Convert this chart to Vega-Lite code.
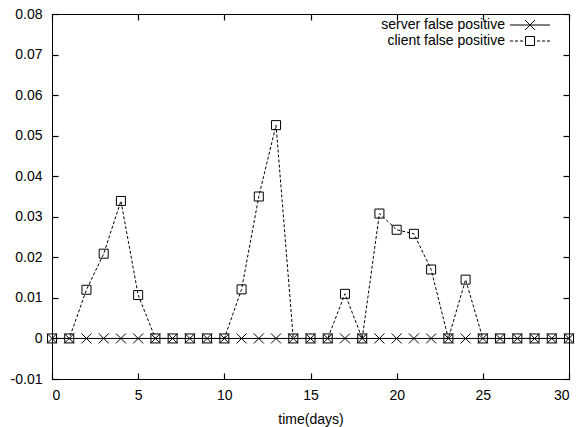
{
  "$schema": "https://vega.github.io/schema/vega-lite/v6.json",
  "width": 517,
  "height": 365,
  "autosize": "none",
  "padding": {"left": 52, "top": 14, "right": 10, "bottom": 48},
  "background": "white",
  "config": {
    "view": {"stroke": "black", "strokeWidth": 1},
    "font": "Liberation Sans",
    "axis": {
      "domainColor": "black",
      "tickColor": "black",
      "tickWidth": 1.2,
      "labelColor": "black",
      "labelFontSize": 14,
      "labelFont": "Liberation Sans",
      "titleFont": "Liberation Sans",
      "titleFontSize": 14,
      "titleFontWeight": "normal",
      "titleColor": "black",
      "grid": false
    },
    "legend": {
      "labelFontSize": 14,
      "labelFont": "Liberation Sans",
      "labelColor": "black"
    }
  },
  "data": {
    "values": [
      {"day": 0, "series": "server false positive", "value": 0},
      {"day": 1, "series": "server false positive", "value": 0},
      {"day": 2, "series": "server false positive", "value": 0},
      {"day": 3, "series": "server false positive", "value": 0},
      {"day": 4, "series": "server false positive", "value": 0},
      {"day": 5, "series": "server false positive", "value": 0},
      {"day": 6, "series": "server false positive", "value": 0},
      {"day": 7, "series": "server false positive", "value": 0},
      {"day": 8, "series": "server false positive", "value": 0},
      {"day": 9, "series": "server false positive", "value": 0},
      {"day": 10, "series": "server false positive", "value": 0},
      {"day": 11, "series": "server false positive", "value": 0},
      {"day": 12, "series": "server false positive", "value": 0},
      {"day": 13, "series": "server false positive", "value": 0},
      {"day": 14, "series": "server false positive", "value": 0},
      {"day": 15, "series": "server false positive", "value": 0},
      {"day": 16, "series": "server false positive", "value": 0},
      {"day": 17, "series": "server false positive", "value": 0},
      {"day": 18, "series": "server false positive", "value": 0},
      {"day": 19, "series": "server false positive", "value": 0},
      {"day": 20, "series": "server false positive", "value": 0},
      {"day": 21, "series": "server false positive", "value": 0},
      {"day": 22, "series": "server false positive", "value": 0},
      {"day": 23, "series": "server false positive", "value": 0},
      {"day": 24, "series": "server false positive", "value": 0},
      {"day": 25, "series": "server false positive", "value": 0},
      {"day": 26, "series": "server false positive", "value": 0},
      {"day": 27, "series": "server false positive", "value": 0},
      {"day": 28, "series": "server false positive", "value": 0},
      {"day": 29, "series": "server false positive", "value": 0},
      {"day": 30, "series": "server false positive", "value": 0},
      {"day": 0, "series": "client false positive", "value": 0},
      {"day": 1, "series": "client false positive", "value": 0},
      {"day": 2, "series": "client false positive", "value": 0.012},
      {"day": 3, "series": "client false positive", "value": 0.0209},
      {"day": 4, "series": "client false positive", "value": 0.0339},
      {"day": 5, "series": "client false positive", "value": 0.0107},
      {"day": 6, "series": "client false positive", "value": 0},
      {"day": 7, "series": "client false positive", "value": 0},
      {"day": 8, "series": "client false positive", "value": 0},
      {"day": 9, "series": "client false positive", "value": 0},
      {"day": 10, "series": "client false positive", "value": 0},
      {"day": 11, "series": "client false positive", "value": 0.0121},
      {"day": 12, "series": "client false positive", "value": 0.035},
      {"day": 13, "series": "client false positive", "value": 0.0526},
      {"day": 14, "series": "client false positive", "value": 0},
      {"day": 15, "series": "client false positive", "value": 0},
      {"day": 16, "series": "client false positive", "value": 0},
      {"day": 17, "series": "client false positive", "value": 0.011},
      {"day": 18, "series": "client false positive", "value": 0},
      {"day": 19, "series": "client false positive", "value": 0.0308},
      {"day": 20, "series": "client false positive", "value": 0.0268},
      {"day": 21, "series": "client false positive", "value": 0.0258},
      {"day": 22, "series": "client false positive", "value": 0.017},
      {"day": 23, "series": "client false positive", "value": 0},
      {"day": 24, "series": "client false positive", "value": 0.0145},
      {"day": 25, "series": "client false positive", "value": 0},
      {"day": 26, "series": "client false positive", "value": 0},
      {"day": 27, "series": "client false positive", "value": 0},
      {"day": 28, "series": "client false positive", "value": 0},
      {"day": 29, "series": "client false positive", "value": 0},
      {"day": 30, "series": "client false positive", "value": 0}
    ]
  },
  "layer": [
    {
      "transform": [{"filter": "datum.series === 'server false positive'"}],
      "mark": {"type": "line", "color": "black", "strokeWidth": 1},
      "encoding": {
        "x": {"field": "day", "type": "quantitative",
              "scale": {"domain": [0, 30], "nice": false, "zero": false},
              "axis": {"orient": "bottom", "values": [0, 5, 10, 15, 20, 25, 30], "title": "time(days)", "ticks": false, "tickSize": 0, "labelPadding": 9, "titlePadding": 10}},
        "y": {"field": "value", "type": "quantitative",
              "scale": {"domain": [-0.01, 0.08], "nice": false, "zero": false},
              "axis": {"orient": "left", "values": [-0.01, 0, 0.01, 0.02, 0.03, 0.04, 0.05, 0.06, 0.07, 0.08], "title": null, "ticks": false, "tickSize": 0, "labelPadding": 10,
                       "labelExpr": "replace(format(datum.value, '.2~f'), '\u2212', '-')"}}
      }
    },
    {
      "transform": [{"filter": "datum.series === 'client false positive'"}],
      "mark": {"type": "line", "color": "black", "strokeWidth": 1, "strokeDash": [3, 2]},
      "encoding": {
        "x": {"field": "day", "type": "quantitative",
              "axis": {"orient": "bottom", "values": [0, 5, 10, 15, 20, 25, 30], "labels": false, "title": null, "domain": false, "ticks": true, "offset": -6, "tickSize": 6}},
        "y": {"field": "value", "type": "quantitative",
              "axis": {"orient": "left", "values": [-0.01, 0, 0.01, 0.02, 0.03, 0.04, 0.05, 0.06, 0.07, 0.08], "labels": false, "title": null, "domain": false, "ticks": true, "offset": -6, "tickSize": 6}}
      }
    },
    {
      "transform": [{"filter": "datum.series === 'server false positive'"}],
      "mark": {"type": "point", "filled": false, "color": "black", "strokeWidth": 1, "size": 100, "opacity": 1, "shape": "M-1,-1L1,1M-1,1L1,-1"},
      "encoding": {
        "x": {"field": "day", "type": "quantitative",
              "axis": {"orient": "top", "values": [0, 5, 10, 15, 20, 25, 30], "labels": false, "title": null, "domain": false, "ticks": true, "offset": -6, "tickSize": 6}},
        "y": {"field": "value", "type": "quantitative",
              "axis": {"orient": "right", "values": [-0.01, 0, 0.01, 0.02, 0.03, 0.04, 0.05, 0.06, 0.07, 0.08], "labels": false, "title": null, "domain": false, "ticks": true, "offset": -6, "tickSize": 6}}
      }
    },
    {
      "transform": [{"filter": "datum.series === 'client false positive'"}],
      "mark": {"type": "point", "filled": false, "color": "black", "strokeWidth": 1, "size": 100, "opacity": 1, "shape": "M-0.9,-0.9H0.9V0.9H-0.9Z"},
      "encoding": {
        "x": {"field": "day", "type": "quantitative", "axis": null},
        "y": {"field": "value", "type": "quantitative", "axis": null}
      }
    },
    {
      "mark": {"type": "point", "filled": false, "color": "black", "strokeWidth": 1, "size": 100, "opacity": 0},
      "encoding": {
        "x": {"field": "day", "type": "quantitative", "axis": null},
        "y": {"field": "value", "type": "quantitative", "axis": null},
        "shape": {"field": "series", "type": "nominal",
                  "scale": {"domain": ["server false positive", "client false positive"],
                            "range": ["M-4,0H4M-1,-1L1,1M-1,1L1,-1", "M-4,0H-3.4M-3,0H-2.4M-2,0H-1.4M1.4,0H2M2.4,0H3M3.4,0H4M-0.9,-0.9H0.9V0.9H-0.9Z"]},
                  "legend": {
                    "title": null,
                    "orient": "none",
                    "legendX": 471,
                    "legendY": 4,
                    "padding": 0,
                    "rowPadding": 2,
                    "symbolSize": 100,
                    "symbolOpacity": 1,
                    "symbolStrokeColor": "black",
                    "symbolStrokeWidth": 1,
                    "labelAlign": "right",
                    "labelOffset": -32
                  }}
      }
    }
  ],
  "resolve": {"axis": {"x": "independent", "y": "independent"}}
}
